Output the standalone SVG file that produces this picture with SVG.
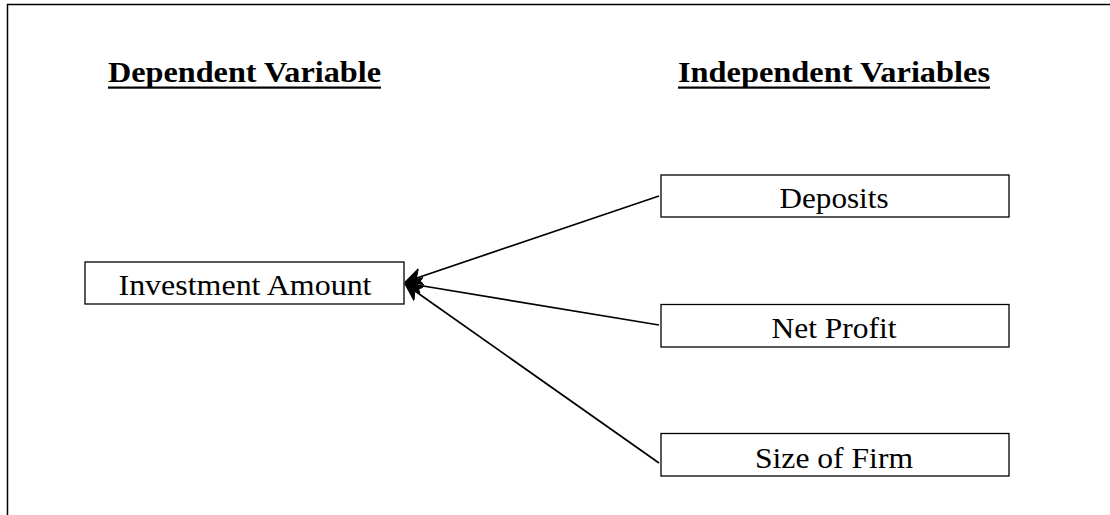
<svg xmlns="http://www.w3.org/2000/svg" width="1110" height="515" viewBox="0 0 1110 515">
<style>
.box{fill:#fff;stroke:#000;stroke-width:1.3}
.lbl{font-family:"Times New Roman","Liberation Serif",Tinos,Times,serif;font-size:29px;fill:#000;text-anchor:middle}
.hdr{font-family:"Times New Roman","Liberation Serif",Tinos,Times,serif;font-size:29px;font-weight:bold;fill:#000}
.con{stroke:#000;stroke-width:1.7;fill:none;marker-end:url(#ah)}
.frame{stroke:#000;stroke-width:1.5;fill:none}
</style>
<defs>
<marker id="ah" markerWidth="20" markerHeight="20" refX="17" refY="10" orient="auto" markerUnits="userSpaceOnUse">
<path d="M0,1.5 L17,10 L0,18.5 L5,10 Z" fill="#000" stroke="#000" stroke-width="1" stroke-linejoin="round"/>
</marker>
</defs>
<g id="frame">
<path class="frame" d="M7.5,515 V4.5 H1110"/>
</g>
<g id="headers">
<text class="hdr" x="108" y="82" textLength="273" lengthAdjust="spacingAndGlyphs">Dependent Variable</text>
<rect x="108" y="86.5" width="273" height="2.2" fill="#000"/>
<text class="hdr" x="678" y="82" textLength="312" lengthAdjust="spacingAndGlyphs">Independent Variables</text>
<rect x="678" y="86.5" width="312" height="2.2" fill="#000"/>
</g>
<g id="connectors">
<line class="con" x1="659" y1="196" x2="405" y2="282"/>
<line class="con" x1="659" y1="325" x2="405" y2="283"/>
<line class="con" x1="659" y1="463" x2="405" y2="284"/>
</g>
<g id="investment">
<rect class="box" x="85" y="262" width="319" height="42"/>
<text class="lbl" x="245" y="295" textLength="253" lengthAdjust="spacingAndGlyphs">Investment Amount</text>
</g>
<g id="deposits">
<rect class="box" x="661" y="175" width="348" height="42"/>
<text class="lbl" x="834" y="208" textLength="109" lengthAdjust="spacingAndGlyphs">Deposits</text>
</g>
<g id="netprofit">
<rect class="box" x="661" y="304.5" width="348" height="42.5"/>
<text class="lbl" x="834" y="338" textLength="125" lengthAdjust="spacingAndGlyphs">Net Profit</text>
</g>
<g id="sizeoffirm">
<rect class="box" x="661" y="433.5" width="348" height="42.5"/>
<text class="lbl" x="834" y="467.5" textLength="158" lengthAdjust="spacingAndGlyphs">Size of Firm</text>
</g>
</svg>
